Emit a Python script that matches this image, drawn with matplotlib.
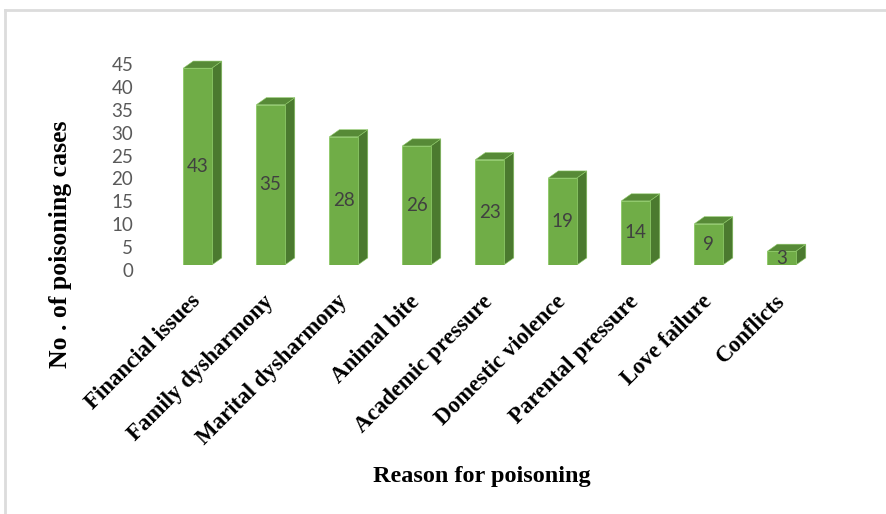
import matplotlib.pyplot as plt
from matplotlib.patches import Polygon
import matplotlib.transforms as mtransforms
import numpy as np

# 中毒の理由ごとの件数
reasons = ["Financial issues", "Family dysharmony", "Marital dysharmony", "Animal bite",
           "Academic pressure", "Domestic violence", "Parental pressure", "Love failure",
           "Conflicts"]
cases = [43, 35, 28, 26, 23, 19, 14, 9, 3]
yticks = [0, 5, 10, 15, 20, 25, 30, 35, 40, 45]

front_c = "#70ad47"
side_c = "#4b7a2f"
top_c = "#578a37"
edge_c = "#8cc866"

fig = plt.figure(figsize=(8.86, 5.14), dpi=100)
ax = fig.add_axes([0.1488, 0.4844, 0.791, 0.4008])

x = np.arange(len(reasons))
w = 0.39
dx = 0.137   # 奥行き (横方向)
dy = 1.55    # 奥行き (縦方向)

ax.bar(x, cases, width=w, color=front_c, edgecolor=edge_c, linewidth=0.6, zorder=3)
for xi, v in zip(x, cases):
    r = xi + w / 2
    l = xi - w / 2
    side = Polygon([(r, 0), (r + dx, dy), (r + dx, v + dy), (r, v)],
                   closed=True, facecolor=side_c, edgecolor=edge_c, linewidth=0.4, zorder=2)
    top = Polygon([(l, v), (l + dx, v + dy), (r + dx, v + dy), (r, v)],
                  closed=True, facecolor=top_c, edgecolor=edge_c, linewidth=0.4, zorder=2)
    ax.add_patch(side)
    ax.add_patch(top)
    ax.text(xi, v / 2, str(v), ha="center", va="center", fontsize=13.5,
            family="Lato", color="#404040", zorder=4)

ax.set_xlim(-0.9, 8.7)
ax.set_ylim(0, 45)
ax.set_yticks(yticks)
ax.set_yticklabels([str(t) for t in yticks], family="Lato", fontsize=13.5, color="#595959")
ax.tick_params(axis="y", length=0, pad=-1)
# 目盛ラベルを少し下へずらす
offset = mtransforms.ScaledTranslation(0, -0.05, fig.dpi_scale_trans)
for lab in ax.get_yticklabels():
    lab.set_transform(lab.get_transform() + offset)

ax.set_xticks(x)
ax.set_xticklabels(reasons, rotation=45, ha="right", va="center", rotation_mode="anchor",
                   family="Liberation Serif", fontweight="bold", fontsize=16.5)
ax.tick_params(axis="x", length=0, pad=24)

for s in ax.spines.values():
    s.set_visible(False)

ax.set_xlabel("Reason for poisoning", family="Liberation Serif", fontweight="bold", fontsize=17.5)
ax.xaxis.set_label_coords(0.5, -0.976)
ax.set_ylabel("No . of poisoning cases", family="Liberation Serif", fontweight="bold", fontsize=18.5)
ax.yaxis.set_label_coords(-0.085, 0.10)

# 外枠 (上と左)
fig.add_artist(plt.Line2D([5 / 886, 1], [1 - 10 / 514, 1 - 10 / 514], color="#dcdcdc", lw=2,
                          transform=fig.transFigure))
fig.add_artist(plt.Line2D([5 / 886, 5 / 886], [0, 1 - 10 / 514], color="#dcdcdc", lw=2,
                          transform=fig.transFigure))

fig.savefig("out.png", dpi=100)
